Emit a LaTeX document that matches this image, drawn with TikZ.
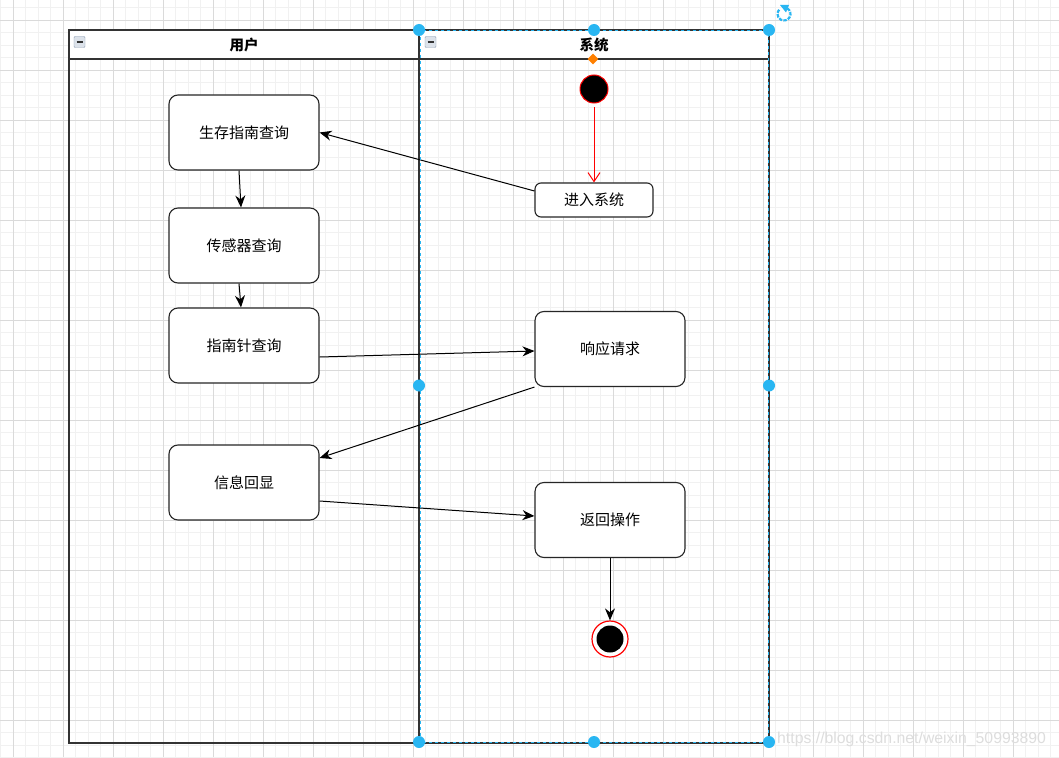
\documentclass[tikz,border=0pt]{standalone}
\usepackage{fontspec}
\setmainfont{Liberation Sans}
\newfontfamily\cjk{Noto Sans CJK SC}
\usetikzlibrary{arrows.meta,calc,shapes.geometric}
\definecolor{minorg}{HTML}{F1F1F1}
\definecolor{majorg}{HTML}{DADADA}
\definecolor{selblue}{HTML}{29B6F2}
\definecolor{lanegray}{HTML}{333333}
\definecolor{iconbd}{HTML}{8A9BB0}
\definecolor{iconfill}{HTML}{DCE2EA}
\definecolor{wmark}{HTML}{DDDDDD}
\begin{document}
\begin{tikzpicture}[x=1pt,y=-1pt,
  minorline/.style={draw=minorg, line width=0.8pt},
  majorline/.style={draw=majorg, line width=0.9pt},
  lanebox/.style={draw=lanegray, line width=1.1pt},
  lanetitle/.style={font=\cjk\bfseries\fontsize{14.5}{16}\selectfont, inner sep=0pt},
  actbox/.style={draw=black!85, line width=1.1pt, rounded corners=9pt, fill=white, minimum width=150pt, minimum height=75pt, inner sep=0pt, font=\cjk\fontsize{15}{17}\selectfont},
  smallbox/.style={actbox, minimum width=118pt, minimum height=34pt, rounded corners=6pt},
  arr/.style={-{Stealth[length=12pt,width=10pt]}, line width=1pt, black},
  handle/.style={circle, fill=selblue, minimum size=12pt, inner sep=0pt},
  icon/.style={draw=iconbd, fill=iconfill, minimum size=11pt, inner sep=0pt, rounded corners=1pt}
]
\useasboundingbox (0,0) rectangle (1059,757);
\fill[white] (0,0) rectangle (1059,757);
% grid
\foreach \i in {0,...,85} \draw[minorline] ({0.5+12.5*\i},0) -- ({0.5+12.5*\i},757);
\foreach \i in {0,...,61} \draw[minorline] (0,{7.5+12.5*\i}) -- (1059,{7.5+12.5*\i});
\foreach \i in {0,...,21} \draw[majorline] ({13+50*\i},0) -- ({13+50*\i},757);
\foreach \i in {0,...,15} \draw[majorline] (0,{20+50*\i}) -- (1059,{20+50*\i});
% lanes
\fill[white] (69,30) rectangle (769,59);
\draw[lanebox] (69,30) rectangle (419,743);
\draw[lanebox] (419,30) rectangle (769,743);
\draw[lanebox] (69,59) -- (769,59);
\node[lanetitle] (t1) at (244,45) {用户};
\node[lanetitle] (t2) at (594,45) {系统};
\node[icon] (ic1) at (79.5,42) {};
\draw[black!80, line width=1.1pt] (76.5,42) -- (82.5,42);
\node[icon] (ic2) at (430.5,42) {};
\draw[black!80, line width=1.1pt] (427.5,42) -- (433.5,42);
% nodes
\node[actbox] (s1) at (244,132.5) {生存指南查询};
\node[actbox] (s2) at (244,245.5) {传感器查询};
\node[actbox] (s3) at (244,345.5) {指南针查询};
\node[actbox] (s4) at (244,482.5) {信息回显};
\node[smallbox] (e1) at (594,200) {进入系统};
\node[actbox] (r1) at (610,349) {响应请求};
\node[actbox] (r2) at (610,520) {返回操作};
\node[circle, fill=black, draw=red, line width=1pt, minimum size=28pt, inner sep=0pt] (init) at (594,89) {};
\node[circle, fill=white, draw=red, line width=1.2pt, minimum size=36pt, inner sep=0pt] (fin) at (610,639) {};
\node[circle, fill=black, minimum size=27pt, inner sep=0pt] (finin) at (fin.center) {};
% connectors
\draw[red, line width=1pt, -{Straight Barb[length=9pt,width=12pt]}] ($(init.south)+(0,4)$) -- (e1.north);
\draw[arr] ($(e1.west)+(0,-9)$) -- (s1.east);
\draw[arr] ($(s1.south)+(-5,0)$) -- ($(s2.north)+(-3,0)$);
\draw[arr] ($(s2.south)+(-5,0)$) -- ($(s3.north)+(-3,0)$);
\draw[arr] ($(s3.east)+(0,11.5)$) -- ($(r1.west)+(0,2)$);
\draw[arr] (r1.south west) -- ($(s4.east)+(0,-24.5)$);
\draw[arr] ($(s4.east)+(0,18.5)$) -- ($(r2.west)+(0,-4)$);
\draw[arr] (r2.south) -- (fin.north);
% selection decoration
\draw[selblue, line width=1pt, dash pattern=on 3pt off 3pt] (420,31) rectangle (768,742);
\node[handle] (h1) at (419,30) {};
\node[handle] (h2) at (594,30) {};
\node[handle] (h3) at (769,30) {};
\node[handle] (h4) at (419,385.5) {};
\node[handle] (h5) at (769,385.5) {};
\node[handle] (h6) at (419,742) {};
\node[handle] (h7) at (594,742) {};
\node[handle] (h8) at (769,742) {};
\node[diamond, fill=orange, minimum size=11pt, inner sep=0pt, shape aspect=1] (dm) at (593,59) {};
% rotate icon
\draw[selblue, line width=2.2pt, dash pattern=on 3.5pt off 1.2pt] (784,14) ++(-60:6.5) arc[start angle=-60, end angle=230, radius=6.5];
\fill[selblue] (780,5) -- (789,5) -- (786,12.5) -- cycle;
% watermark
\node[anchor=west, inner sep=0pt, text=wmark, font=\fontsize{15.8}{17}\selectfont] (wm) at (777,739) {https://blog.csdn.net/weixin\_50993890};
\end{tikzpicture}
\end{document}
